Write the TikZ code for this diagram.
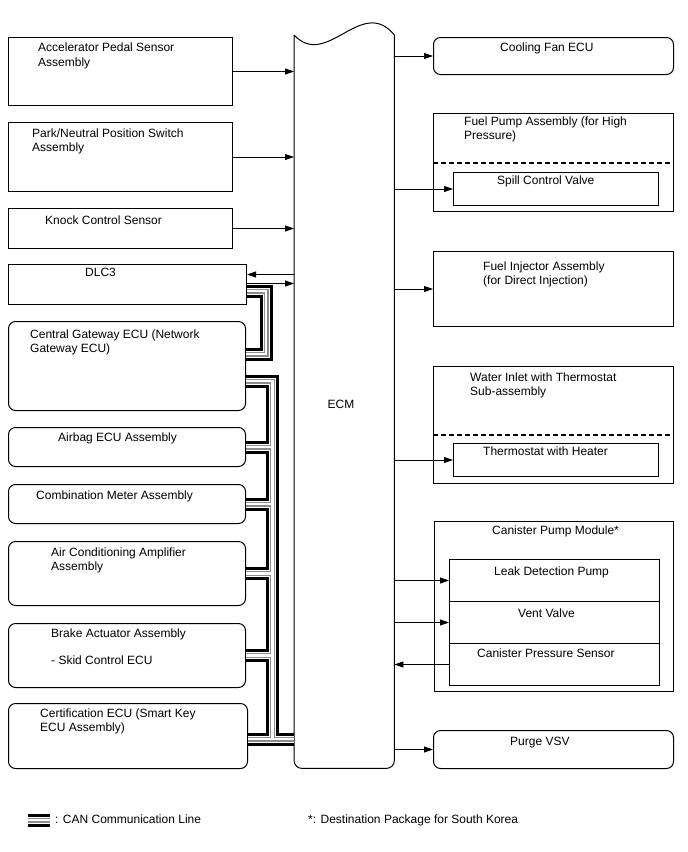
\documentclass[tikz,border=0pt]{standalone}
\usepackage{fontspec}
\setmainfont{Liberation Sans}
\usetikzlibrary{arrows.meta}
\tikzset{box/.style={draw, rectangle, line width=1pt, anchor=north west,
  inner sep=0pt},
  rbox/.style={box, rounded corners=7pt},
  txt/.style={anchor=base west, inner sep=0pt, align=left},
  lnk/.style={->, line width=0.8pt},
  sep/.style={line width=1.3pt, dash pattern=on 5pt off 3pt},
  can/.style={draw=black, line width=13pt,
    postaction={draw=white, line width=7pt},
    postaction={draw=black!45, line width=5pt},
    postaction={draw=white, line width=2.6pt}}}

\begin{document}
\begin{tikzpicture}[x=1pt, y=-1pt, >={Triangle[length=9pt, width=6pt]},
  font=\fontsize{12}{14.5}\selectfont]
  \useasboundingbox (0,0) rectangle (688,852);
  % ECM
  \node[minimum width=100pt, minimum height=733pt, anchor=north west,
    inner sep=0pt] (ecm) at (294,35) {};
  \draw[line width=1pt] (ecm.north west) .. controls +(33,35) and +(-33,-40)
    .. (ecm.north east) [rounded corners=8pt] -- (ecm.south east)
    -- (ecm.south west) [sharp corners] -- (ecm.north west);
  \node (ecm-t) at (341,404) {ECM};
  % left column
  \node[box, minimum width=224pt, minimum height=68pt] (aps) at (8,37) {};
  \node[box, minimum width=224pt, minimum height=69pt] (pns) at (8,122) {};
  \node[box, minimum width=224pt, minimum height=40pt] (kcs) at (8,208) {};
  \node[box, minimum width=238pt, minimum height=40pt] (dlc) at (8,264) {};
  \node[rbox, minimum width=237pt, minimum height=89pt] (gw) at (8,321) {};
  \node[rbox, minimum width=237pt, minimum height=39pt] (air) at (8,427) {};
  \node[rbox, minimum width=237pt, minimum height=39pt] (comb) at (8,484) {};
  \node[rbox, minimum width=237pt, minimum height=64pt] (ac) at (8,541) {};
  \node[rbox, minimum width=237pt, minimum height=64pt] (brk) at (8,623) {};
  \node[rbox, minimum width=239pt, minimum height=65pt] (cert) at (8,703) {};
  % (multi-line texts: base is the last line)
  \node[txt] (aps-t) at (38,66) {Accelerator Pedal Sensor\\Assembly};
  \node[txt] (pns-t) at (32,151.8) {Park/Neutral Position Switch\\Assembly};
  \node[txt] (kcs-t) at (45,224.3) {Knock Control Sensor};
  \node[txt] (dlc-t) at (85,276.3) {DLC3};
  \node[txt] (gw-t) at (30,352.8) {Central Gateway ECU (Network\\Gateway ECU)};
  \node[txt] (air-t) at (58,441.3) {Airbag ECU Assembly};
  \node[txt] (comb-t) at (36,499.3) {Combination Meter Assembly};
  \node[txt] (ac-t) at (51,570.8) {Air Conditioning Amplifier\\Assembly};
  \node[txt] (brk-t) at (51,664.3) {Brake Actuator Assembly\\[12.5pt]- Skid Control ECU};
  \node[txt] (cert-t) at (40,731.8) {Certification ECU (Smart Key\\ECU Assembly)};
  % right column
  \node[rbox, minimum width=240pt, minimum height=37pt] (cool) at (433,37) {};
  \node[box, minimum width=240pt, minimum height=98pt] (fpa) at (433,113) {};
  \node[box, minimum width=205pt, minimum height=33pt] (scv) at (453,172) {};
  \node[box, minimum width=240pt, minimum height=75pt] (fia) at (433,251) {};
  \node[box, minimum width=240pt, minimum height=117pt] (wit) at (433,366) {};
  \node[box, minimum width=205pt, minimum height=33pt] (twh) at (453,443) {};
  \node[box, minimum width=239pt, minimum height=170pt] (cpm) at (434,521) {};
  \node[box, minimum width=210pt, minimum height=42pt] (ldp) at (449,559) {};
  \node[box, minimum width=210pt, minimum height=42pt] (vv) at (449,601) {};
  \node[box, minimum width=210pt, minimum height=42pt] (cps) at (449,643) {};
  \node[rbox, minimum width=240pt, minimum height=38pt] (purge) at (433,730) {};
  \draw[sep] (fpa.west |- 0,163) -- (fpa.east |- 0,163);
  \draw[sep] (wit.west |- 0,435) -- (wit.east |- 0,435);
  \node[txt] (cool-t) at (500,51.3) {Cooling Fan ECU};
  \node[txt] (fpa-t) at (464,139.8) {Fuel Pump Assembly (for High\\Pressure)};
  \node[txt] (scv-t) at (497,184.3) {Spill Control Valve};
  \node[txt] (fia-t) at (483,284.8) {Fuel Injector Assembly\\(for Direct Injection)};
  \node[txt] (wit-t) at (470,395.8) {Water Inlet with Thermostat\\Sub-assembly};
  \node[txt] (twh-t) at (483,455.3) {Thermostat with Heater};
  \node[txt] (cpm-t) at (492,534.3) {Canister Pump Module*};
  \node[txt] (ldp-t) at (494,575.3) {Leak Detection Pump};
  \node[txt] (vv-t) at (518,617.3) {Vent Valve};
  \node[txt] (cps-t) at (477,657.3) {Canister Pressure Sensor};
  \node[txt] (purge-t) at (510,745.3) {Purge VSV};
  % signal lines
  \draw[lnk] (aps) -- (aps -| ecm.west);
  \draw[lnk] (pns) -- (pns -| ecm.west);
  \draw[lnk] (kcs) -- (kcs -| ecm.west);
  \coordinate (dlc-in) at ([yshift=10pt]dlc.east);
  \coordinate (dlc-out) at ([yshift=1pt]dlc.east);
  \draw[lnk] (dlc-in -| ecm.west) -- (dlc-in);
  \draw[lnk] (dlc-out) -- (dlc-out -| ecm.west);
  \draw[lnk] (cool -| ecm.east) -- (cool);
  \draw[lnk] (scv -| ecm.east) -- (scv);
  \draw[lnk] (fia -| ecm.east) -- (fia);
  \draw[lnk] (twh -| ecm.east) -- (twh);
  \draw[lnk] (ldp -| ecm.east) -- (ldp);
  \draw[lnk] (vv -| ecm.east) -- (vv);
  \draw[lnk] (cps) -- (cps -| ecm.east);
  \draw[lnk] (purge -| ecm.east) -- (purge);
  % CAN lines
  \coordinate (loop-a) at (266,291);
  \coordinate (loop-b) at (266,354);
  \coordinate (bus-top) at (272.5,381);
  \coordinate (bus-bot) at (272.5,739);
  \draw[can] (loop-a -| dlc.east) -- (loop-a) -- (loop-b) -- (loop-b -| gw.east);
  \draw[can] (bus-top -| gw.east) -- (bus-top) -- (bus-bot)
    (bus-bot -| cert.east) -- (bus-bot -| ecm.west)
    (air) ++(118.5,0) -- (air -| bus-top)
    (comb) ++(118.5,0) -- (comb -| bus-top)
    (ac) ++(118.5,0) -- (ac -| bus-top)
    (brk) ++(118.5,0) -- (brk -| bus-top);
  % legend
  \coordinate (leg-a) at (28,820);
  \coordinate (leg-b) at (50,820);
  \draw[can] (leg-a) -- (leg-b);
  \node[txt] (leg-t) at (55,823.3) {: CAN Communication Line};
  \node[txt] (note-t) at (308,823.3) {*: Destination Package for South Korea};
\end{tikzpicture}
\end{document}
